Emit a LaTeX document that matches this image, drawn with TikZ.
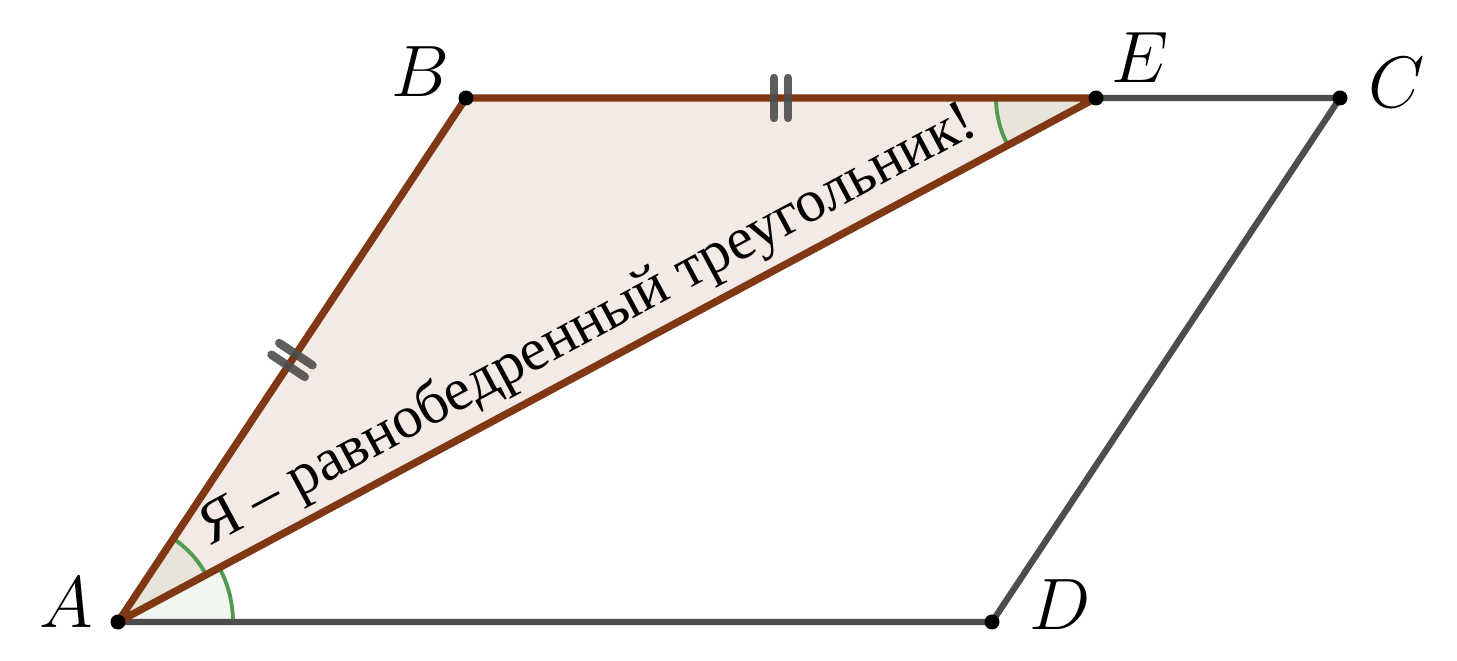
\documentclass[tikz,border=0pt]{standalone}
\usepackage{fontspec}
\newfontfamily\cyrfont{Liberation Serif}
\usetikzlibrary{positioning, calc}

\definecolor{sideBrown}{RGB}{128,56,20}
\definecolor{triFill}{RGB}{243,234,229}
\definecolor{edgeGray}{RGB}{77,77,77}
\definecolor{arcGreen}{RGB}{80,155,80}
\definecolor{angOuter}{RGB}{241,246,240}
\definecolor{angInner}{RGB}{232,228,218}

\begin{document}
\begin{tikzpicture}[
  side/.style={draw=sideBrown, line width=2.1pt, line cap=round, line join=round},
  edge/.style={draw=edgeGray, line width=1.8pt, line cap=round},
  angarc/.style={draw=arcGreen, line width=1.1pt},
  tickmark/.style={draw=edgeGray, line width=2.4pt, line cap=round, opacity=0.9},
  ptlbl/.style={font=\huge, inner sep=0pt},
  dot/.style={circle, fill=black, inner sep=0pt, minimum size=0.15cm}
]
\useasboundingbox (0,0) rectangle (14.57,6.61);

% the parallelogram and the point E on BC
\coordinate (A) at (1.18,0.39);
\coordinate (B) at (4.66,5.63);
\coordinate (E) at (10.96,5.63);
\coordinate (C) at (13.40,5.63);
\coordinate (D) at (9.92,0.39);

% triangle ABE
\fill[triFill] (A) -- (B) -- (E) -- cycle;

% angle marks
\fill[angOuter] (A) -- ++(0:1.15) arc[start angle=0, end angle=28.2, radius=1.15] -- cycle;
\fill[angInner] (A) -- ++(28.2:1.0) arc[start angle=28.2, end angle=56.4, radius=1.0] -- cycle;
\fill[angInner] (E) -- ++(180:1.0) arc[start angle=180, end angle=208.2, radius=1.0] -- cycle;
\draw[angarc] ($(A)+(0:1.15)$) arc[start angle=0, end angle=28.2, radius=1.15];
\draw[angarc] ($(A)+(28.2:1.0)$) arc[start angle=28.2, end angle=56.4, radius=1.0];
\draw[angarc] ($(E)+(180:1.0)$) arc[start angle=180, end angle=208.2, radius=1.0];

% sides
\draw[edge] (A) -- (D) -- (C) -- (E);
\draw[side] (A) -- (B) -- (E) -- cycle;

% equal sides AB = BE
\foreach \s in {-0.07,0.07} {
  \draw[tickmark] ($(A)!0.5!(B)$) ++(56.4:\s) ++(146.4:0.2) -- ++(-33.6:0.4);
  \draw[tickmark] ($(B)!0.5!(E)$) ++(0:\s) ++(90:0.2) -- ++(-90:0.4);
}

% text along AE
\node[anchor=base, rotate=28.2, font=\cyrfont\fontsize{17}{20}\selectfont, inner sep=0pt] (txt)
  at ($(A)!0.5!(E)+(118.2:0.24)$) {Я – равнобедренный треугольник!};

% points
\foreach \p in {A,B,E,C,D}
  \node[dot] (d\p) at (\p) {};

\node[ptlbl] (lA) at (0.66,0.58) {$A$};
\node[ptlbl] (lB) at (4.20,5.89) {$B$};
\node[ptlbl] (lE) at (11.40,6.03) {$E$};
\node[ptlbl] (lC) at (13.97,5.78) {$C$};
\node[ptlbl] (lD) at (10.60,0.56) {$D$};
\end{tikzpicture}
\end{document}
